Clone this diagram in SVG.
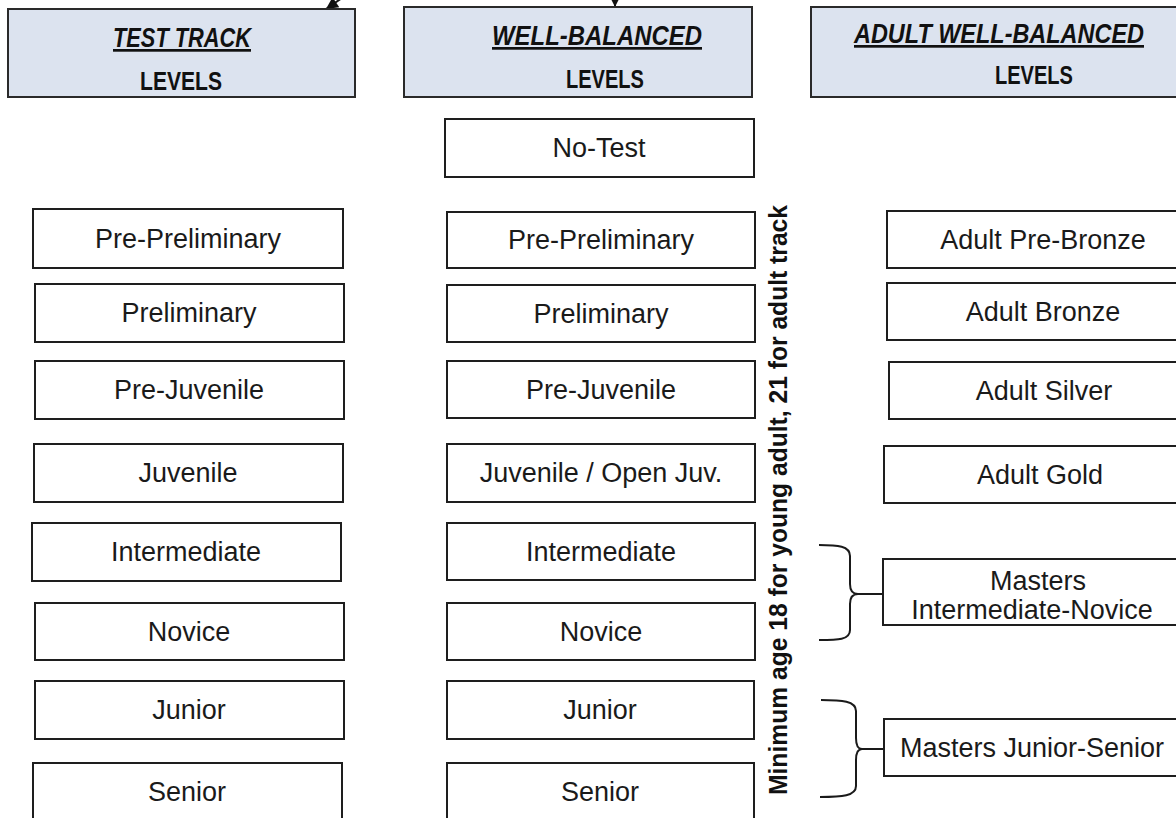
<svg xmlns="http://www.w3.org/2000/svg" width="1176" height="818" viewBox="0 0 1176 818">
<style>
.hdr{fill:#dce3ef;stroke:#2a2a2a;stroke-width:2}
.box{fill:#ffffff;stroke:#1e1e1e;stroke-width:2}
.t{font-family:"Liberation Sans",Arial,sans-serif;font-size:27px;fill:#1a1a1a;text-anchor:middle}
.ht{font-family:"Liberation Sans",Arial,sans-serif;font-size:27px;font-weight:bold;font-style:italic;fill:#111;text-anchor:middle;text-decoration:underline}
.hl{font-family:"Liberation Sans",Arial,sans-serif;font-size:26px;font-weight:bold;fill:#111;text-anchor:middle}
.vt{font-family:"Liberation Sans",Arial,sans-serif;font-size:25px;font-weight:bold;fill:#111;text-anchor:middle}
.con{fill:none;stroke:#1a1a1a;stroke-width:2}
</style>
<defs>
<marker id="ah" viewBox="0 0 10 10" refX="10" refY="5" markerWidth="16" markerHeight="12" markerUnits="userSpaceOnUse" orient="auto">
<path d="M0,0 L10,5 L0,10 z" fill="#111"/>
</marker>
</defs>
<rect width="1176" height="818" fill="#ffffff"/>

<g id="connectors">
<path class="con" d="M342,-2 L326,9" marker-end="url(#ah)"/>
<path class="con" d="M615,-20 L615,7" marker-end="url(#ah)"/>
<path class="con" d="M819,545 C838,545 850,546 850,556 L850,584 C850,591 853,594 858,594 C853,594 850,597 850,604 L850,630 C850,640 838,640 819,640"/>
<path class="con" d="M858,594 L883,594"/>
<path class="con" d="M821,700 C842,700 856,701 856,711 L856,738 C856,746 858,749 862,749 C858,749 856,752 856,760 L856,786 C856,796 842,797 820,797"/>
<path class="con" d="M862,749 L884,749"/>
</g>

<g id="hdr-test-track">
<rect class="hdr" x="8" y="9" width="347" height="88"/>
<text class="ht" x="182" y="47" textLength="138" lengthAdjust="spacingAndGlyphs">TEST TRACK</text>
<text class="hl" x="181" y="90" textLength="82" lengthAdjust="spacingAndGlyphs">LEVELS</text>
</g>
<g id="hdr-well-balanced">
<rect class="hdr" x="404" y="7" width="348" height="90"/>
<text class="ht" x="597" y="45" textLength="210" lengthAdjust="spacingAndGlyphs">WELL-BALANCED</text>
<text class="hl" x="605" y="88" textLength="78" lengthAdjust="spacingAndGlyphs">LEVELS</text>
</g>
<g id="hdr-adult">
<rect class="hdr" x="811" y="7" width="380" height="90"/>
<text class="ht" x="999" y="43" font-size="24" textLength="290" lengthAdjust="spacingAndGlyphs">ADULT WELL-BALANCED</text>
<text class="hl" x="1034" y="84" textLength="78" lengthAdjust="spacingAndGlyphs">LEVELS</text>
</g>

<g id="tt-pre-preliminary"><rect class="box" x="33" y="209" width="310" height="59"/><text class="t" x="188" y="248">Pre-Preliminary</text></g>
<g id="tt-preliminary"><rect class="box" x="35" y="284" width="309" height="58"/><text class="t" x="189" y="322">Preliminary</text></g>
<g id="tt-pre-juvenile"><rect class="box" x="35" y="361" width="309" height="58"/><text class="t" x="189" y="399">Pre-Juvenile</text></g>
<g id="tt-juvenile"><rect class="box" x="34" y="444" width="309" height="58"/><text class="t" x="188" y="482">Juvenile</text></g>
<g id="tt-intermediate"><rect class="box" x="32" y="523" width="309" height="58"/><text class="t" x="186" y="561">Intermediate</text></g>
<g id="tt-novice"><rect class="box" x="35" y="603" width="309" height="57"/><text class="t" x="189" y="641">Novice</text></g>
<g id="tt-junior"><rect class="box" x="35" y="681" width="309" height="58"/><text class="t" x="189" y="719">Junior</text></g>
<g id="tt-senior"><rect class="box" x="33" y="763" width="309" height="70"/><text class="t" x="187" y="801">Senior</text></g>

<g id="wb-no-test"><rect class="box" x="445" y="119" width="309" height="58"/><text class="t" x="599" y="157">No-Test</text></g>
<g id="wb-pre-preliminary"><rect class="box" x="447" y="212" width="308" height="56"/><text class="t" x="601" y="249">Pre-Preliminary</text></g>
<g id="wb-preliminary"><rect class="box" x="447" y="285" width="308" height="57"/><text class="t" x="601" y="323">Preliminary</text></g>
<g id="wb-pre-juvenile"><rect class="box" x="447" y="361" width="308" height="57"/><text class="t" x="601" y="399">Pre-Juvenile</text></g>
<g id="wb-juvenile"><rect class="box" x="447" y="444" width="308" height="58"/><text class="t" x="601" y="482">Juvenile / Open Juv.</text></g>
<g id="wb-intermediate"><rect class="box" x="447" y="523" width="308" height="57"/><text class="t" x="601" y="561">Intermediate</text></g>
<g id="wb-novice"><rect class="box" x="447" y="603" width="308" height="57"/><text class="t" x="601" y="641">Novice</text></g>
<g id="wb-junior"><rect class="box" x="447" y="681" width="307" height="58"/><text class="t" x="600" y="719">Junior</text></g>
<g id="wb-senior"><rect class="box" x="447" y="763" width="307" height="70"/><text class="t" x="600" y="801">Senior</text></g>

<g id="age-note">
<text class="vt" transform="translate(787,500) rotate(-90)" textLength="590" lengthAdjust="spacingAndGlyphs">Minimum age 18 for young adult, 21 for adult track</text>
</g>

<g id="ad-pre-bronze"><rect class="box" x="887" y="211" width="312" height="57"/><text class="t" x="1043" y="249">Adult Pre-Bronze</text></g>
<g id="ad-bronze"><rect class="box" x="887" y="283" width="312" height="57"/><text class="t" x="1043" y="321">Adult Bronze</text></g>
<g id="ad-silver"><rect class="box" x="889" y="362" width="310" height="57"/><text class="t" x="1044" y="400">Adult Silver</text></g>
<g id="ad-gold"><rect class="box" x="884" y="446" width="312" height="57"/><text class="t" x="1040" y="484">Adult Gold</text></g>
<g id="ad-masters-int-nov"><rect class="box" x="883" y="559" width="310" height="66"/><text class="t" x="1038" y="590">Masters</text><text class="t" x="1032" y="619">Intermediate-Novice</text></g>
<g id="ad-masters-jr-sr"><rect class="box" x="884" y="719" width="310" height="57"/><text class="t" x="1032" y="757">Masters Junior-Senior</text></g>
</svg>
